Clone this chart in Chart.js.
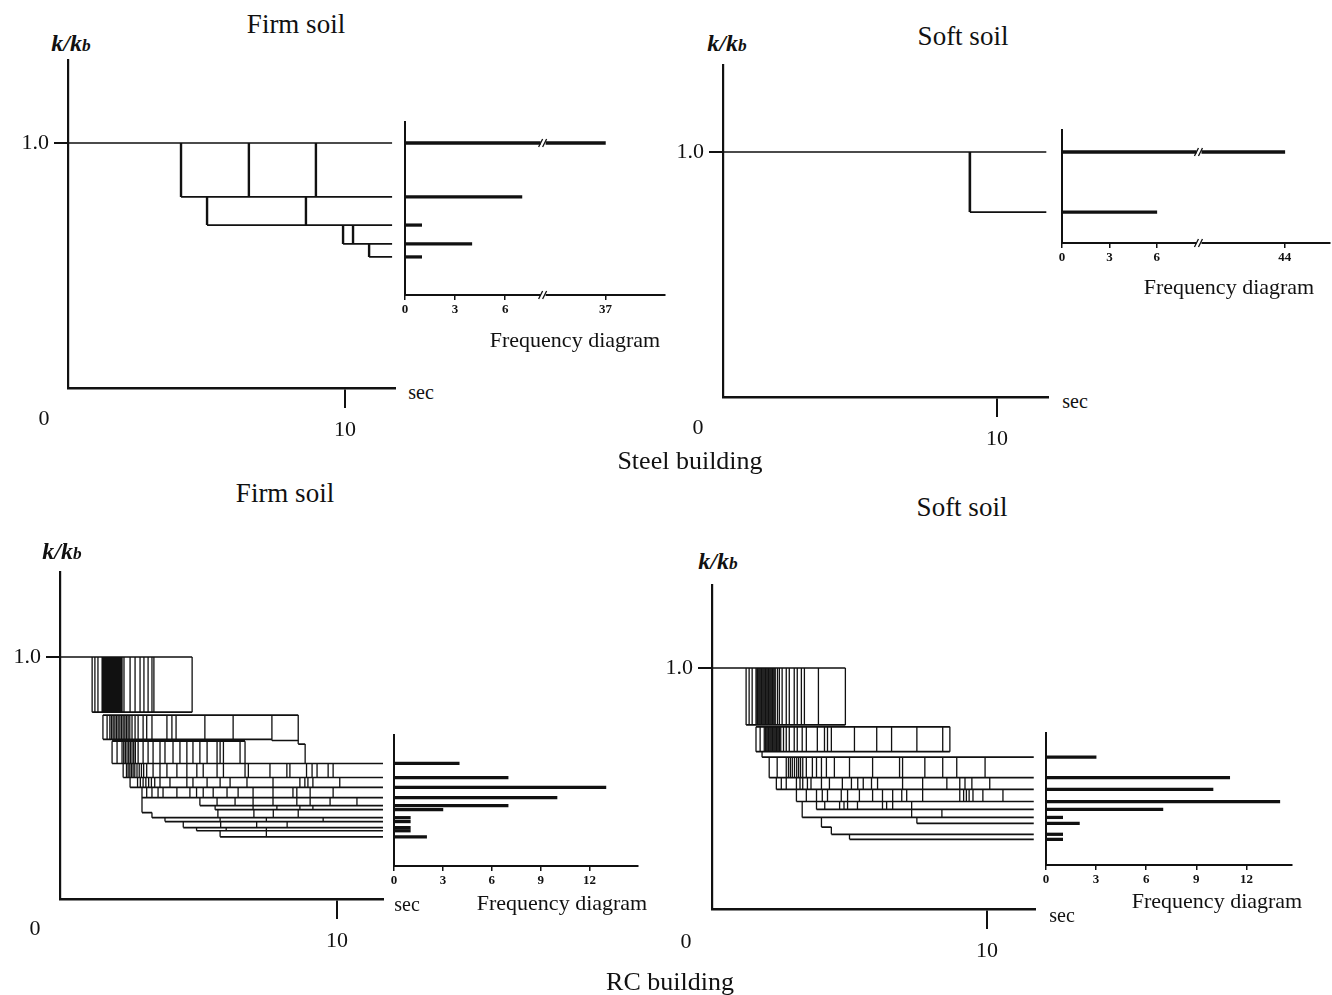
<!DOCTYPE html>
<html>
<head>
<meta charset="utf-8">
<script src="https://cdn.jsdelivr.net/npm/chart.js@4.4.1/dist/chart.umd.min.js"></script>
<style>
body { margin: 0; background: #fff; width: 1332px; height: 995px; position: relative; overflow: hidden;
       font-family: "Liberation Serif", serif; color: #111; }
canvas { position: absolute; }
.t { position: absolute; white-space: nowrap; transform: translate(-50%, -50%); line-height: 1; }
.kk { font-size: 24px; font-weight: bold; font-style: italic; }
.kk span { font-size: 0.72em; }
</style>
</head>
<body>
<canvas id="steelFirm"></canvas><canvas id="steelFirmFreq"></canvas>
<canvas id="steelSoft"></canvas><canvas id="steelSoftFreq"></canvas>
<canvas id="rcFirm"></canvas><canvas id="rcFirmFreq"></canvas>
<canvas id="rcSoft"></canvas><canvas id="rcSoftFreq"></canvas>

<div class="t" style="left:296px;top:24px;font-size:27px">Firm soil</div>
<div class="t kk" style="left:71px;top:43px">k/k<span>b</span></div>
<div class="t" style="left:44px;top:418px;font-size:22px">0</div>
<div class="t" style="left:421px;top:392px;font-size:20px">sec</div>
<div class="t" style="left:575px;top:340px;font-size:22px">Frequency diagram</div>

<div class="t" style="left:963px;top:36px;font-size:27px">Soft soil</div>
<div class="t kk" style="left:727px;top:43px">k/k<span>b</span></div>
<div class="t" style="left:698px;top:427px;font-size:22px">0</div>
<div class="t" style="left:1075px;top:401px;font-size:20px">sec</div>
<div class="t" style="left:1229px;top:287px;font-size:22px">Frequency diagram</div>

<div class="t" style="left:690px;top:461px;font-size:26px">Steel building</div>

<div class="t" style="left:285px;top:493px;font-size:27px">Firm soil</div>
<div class="t kk" style="left:62px;top:551px">k/k<span>b</span></div>
<div class="t" style="left:35px;top:928px;font-size:22px">0</div>
<div class="t" style="left:407px;top:904px;font-size:20px">sec</div>
<div class="t" style="left:562px;top:903px;font-size:22px">Frequency diagram</div>

<div class="t" style="left:962px;top:507px;font-size:27px">Soft soil</div>
<div class="t kk" style="left:718px;top:561px">k/k<span>b</span></div>
<div class="t" style="left:686px;top:941px;font-size:22px">0</div>
<div class="t" style="left:1062px;top:915px;font-size:20px">sec</div>
<div class="t" style="left:1217px;top:901px;font-size:22px">Frequency diagram</div>

<div class="t" style="left:670px;top:982px;font-size:26px">RC building</div>

<script>
// ---- data: horizontal steps [t start, t end, k/kb], drops [k top, k bottom, [t ...]]
// steel building, firm soil
var steelFirmLines = [[0, 11.7, 1.0], [4.08, 11.7, 0.78], [5.02, 11.7, 0.665], [9.93, 11.7, 0.588], [10.87, 11.7, 0.535]];
var steelFirmDrops = [[1.0, 0.78, [4.08, 6.53, 8.95]], [0.78, 0.665, [5.02, 8.59]], [0.665, 0.588, [9.93, 10.29]], [0.588, 0.535, [10.87]]];
var steelFirmLevels = [1.0, 0.78, 0.665, 0.588, 0.535];
var steelFirmCounts = [37, 7, 1, 4, 1];
var steelFirmTicks = [0, 3, 6, 37];
var steelFirmBreak = [8.3, 37, 12.0];   // break starts, value, shown at

// steel building, soft soil
var steelSoftLines = [[0, 11.8, 1.0], [9.01, 11.8, 0.755]];
var steelSoftDrops = [[1.0, 0.755, [9.01]]];
var steelSoftLevels = [1.0, 0.755];
var steelSoftCounts = [44, 6];
var steelSoftTicks = [0, 3, 6, 44];
var steelSoftBreak = [8.7, 44, 14.1];

// RC building, firm soil
var rcFirmLines = [
  [0, 4.77, 1.0], [1.16, 4.77, 0.772], [1.55, 8.6, 0.76], [1.55, 7.65, 0.66],
  [7.65, 8.6, 0.655], [8.6, 8.85, 0.64], [1.88, 6.68, 0.652],
  [1.88, 11.66, 0.560], [2.28, 11.66, 0.502], [2.53, 11.66, 0.461], [2.96, 11.66, 0.419],
  [5.05, 11.66, 0.386], [5.6, 11.66, 0.369], [2.96, 3.32, 0.357], [3.32, 11.66, 0.336],
  [3.79, 11.66, 0.320], [4.45, 11.66, 0.295], [4.93, 11.66, 0.282], [5.78, 11.66, 0.257]
];
var rcFirmDrops = [
  [1.0, 0.772, [1.16, 1.26, 1.37, 1.52, 1.56, 1.6, 1.64, 1.68, 1.72, 1.76, 1.8, 1.84, 1.88, 1.92, 1.96, 2.0, 2.04, 2.08, 2.12, 2.16, 2.2, 2.24, 2.31, 2.53, 2.71, 2.89, 3.03, 3.18, 3.32, 3.39, 4.77]],
  [0.76, 0.66, [1.55, 1.7, 1.8, 1.86, 1.92, 1.98, 2.04, 2.1, 2.16, 2.22, 2.28, 2.34, 2.4, 2.46, 2.52, 2.6, 2.71, 2.82, 3.0, 3.13, 3.32, 3.86, 4.04, 4.19, 5.23, 6.25]],
  [0.76, 0.655, [7.65]],
  [0.76, 0.64, [8.6]],
  [0.652, 0.56, [1.88, 2.06, 2.24, 2.3, 2.36, 2.42, 2.48, 2.54, 2.6, 2.66, 2.72, 2.82, 3.0, 3.18, 3.36, 3.61, 3.79, 4.08, 4.33, 4.58, 4.8, 5.05, 5.31, 5.67, 5.78, 5.9, 6.5, 6.68]],
  [0.64, 0.56, [8.85]],
  [0.56, 0.502, [2.28, 2.4, 2.46, 2.52, 2.58, 2.64, 2.7, 2.78, 2.86, 2.94, 3.02, 3.13, 3.36, 3.61, 3.86, 4.22, 4.58, 4.94, 5.17, 5.67, 5.9, 6.68, 6.8, 7.58, 8.19, 8.3, 8.9, 9.1, 9.28, 9.68, 9.86]],
  [0.502, 0.461, [2.53, 2.8, 2.9, 3.0, 3.1, 3.2, 3.3, 3.42, 3.61, 3.97, 4.58, 4.8, 5.31, 5.78, 6.14, 6.75, 7.69, 8.66, 8.84, 8.95, 9.13, 10.1]],
  [0.461, 0.419, [2.96, 3.13, 3.32, 3.54, 3.72, 4.22, 4.69, 4.93, 5.17, 5.53, 6.03, 6.43, 6.97, 7.69, 8.41, 8.55, 9.03, 9.86]],
  [0.419, 0.357, [2.96]],
  [0.419, 0.386, [5.05, 5.67, 6.32, 6.97, 7.69, 8.55, 9.03, 9.75, 10.72]],
  [0.386, 0.369, [5.6, 6.97, 7.83, 8.66, 9.13]],
  [0.357, 0.336, [3.32]],
  [0.369, 0.336, [5.7, 7.0, 7.7, 8.6]],
  [0.336, 0.32, [3.79, 5.78, 7.45, 9.5]],
  [0.32, 0.295, [4.45, 5.8, 7.1, 8.2]],
  [0.295, 0.282, [4.93, 6.0, 7.45]],
  [0.282, 0.257, [5.78, 7.45]]
];
var rcFirmLevels = [0.560, 0.502, 0.461, 0.419, 0.386, 0.369, 0.336, 0.320, 0.295, 0.282, 0.257];
var rcFirmCounts = [4, 7, 13, 10, 7, 3, 1, 1, 1, 1, 2];

// RC building, soft soil
var rcSoftLines = [
  [0, 4.85, 1.0], [1.24, 4.85, 0.764], [1.6, 8.65, 0.756], [1.6, 8.65, 0.653],
  [1.82, 11.7, 0.630], [2.08, 11.7, 0.545], [2.34, 11.7, 0.496], [3.07, 11.7, 0.446],
  [3.8, 11.7, 0.413], [3.28, 11.7, 0.380], [7.45, 11.7, 0.355],
  [3.98, 4.34, 0.34], [4.34, 11.7, 0.310], [5.0, 11.7, 0.289]
];
var rcSoftDrops = [
  [1.0, 0.764, [1.24, 1.35, 1.46, 1.6, 1.65, 1.7, 1.75, 1.8, 1.85, 1.9, 1.95, 2.0, 2.05, 2.1, 2.15, 2.2, 2.25, 2.3, 2.38, 2.45, 2.55, 2.7, 2.81, 2.99, 3.1, 3.25, 3.36, 3.87, 4.85]],
  [0.756, 0.653, [1.6, 1.75, 1.9, 1.95, 2.0, 2.05, 2.1, 2.15, 2.2, 2.25, 2.3, 2.35, 2.4, 2.45, 2.5, 2.6, 2.7, 2.81, 2.99, 3.1, 3.28, 3.43, 3.83, 4.09, 4.2, 4.34, 5.18, 5.99, 6.53, 7.45, 8.39, 8.65]],
  [0.653, 0.630, [1.82]],
  [0.630, 0.545, [2.08, 2.37, 2.7, 2.78, 2.85, 2.92, 3.0, 3.08, 3.15, 3.22, 3.3, 3.43, 3.65, 3.8, 3.98, 4.16, 4.45, 5.0, 5.84, 6.82, 6.93, 7.74, 8.39, 8.9, 9.93]],
  [0.545, 0.496, [2.34, 2.52, 2.7, 3.07, 3.2, 3.3, 3.47, 3.6, 3.98, 4.27, 4.74, 5.07, 5.3, 5.5, 5.8, 6.02, 6.93, 7.66, 8.54, 9.01, 9.2, 9.45, 10.1]],
  [0.496, 0.446, [3.07, 3.43, 3.8, 4.01, 4.2, 4.7, 4.93, 5.36, 5.84, 6.2, 6.57, 6.9, 7.08, 7.66, 9.01, 9.15, 9.25, 9.35, 9.49, 9.85, 10.58]],
  [0.446, 0.413, [3.8, 4.1, 4.64, 4.8, 4.93, 5.29, 6.2, 6.35, 6.57, 7.26]],
  [0.446, 0.380, [3.28]],
  [0.413, 0.380, [7.26, 8.36]],
  [0.380, 0.355, [7.45]],
  [0.380, 0.34, [3.98]],
  [0.34, 0.310, [4.34]],
  [0.310, 0.289, [5.0]]
];
var rcSoftLevels = [0.630, 0.545, 0.496, 0.446, 0.413, 0.380, 0.355, 0.310, 0.289];
var rcSoftCounts = [3, 11, 10, 14, 7, 1, 2, 1, 1];
var rcFreqTicks = [0, 3, 6, 9, 12];

// ---- helpers
Chart.defaults.font.family = '"Liberation Serif", serif';
Chart.defaults.color = '#111';

function stepPoints(lines) {
  var pts = [];
  lines.forEach(function (l) {
    pts.push({x: l[0], y: l[2]}, {x: l[1], y: l[2]}, {x: l[1], y: null});
  });
  return pts;
}

function dropPoints(drops) {
  var pts = [];
  drops.forEach(function (d) {
    d[2].forEach(function (t) {
      pts.push({x: t, y: d[0]}, {x: t, y: d[1]}, {x: t, y: null});
    });
  });
  return pts;
}

// position on a broken count axis
function brkPos(v, brk) {
  if (!brk || v <= brk[0]) return v;
  return brk[0] + (v - brk[0]) * (brk[2] - brk[0]) / (brk[1] - brk[0]);
}

function place(c, left, top, w, h) {
  c.width = w; c.height = h;
  c.style.left = left + 'px'; c.style.top = top + 'px';
}

// keep the plot box where it is asked for, no label padding
function noPad(s) {
  s.paddingTop = 0; s.paddingBottom = 0; s.paddingLeft = 0; s.paddingRight = 0;
}

var breakMarks = {
  id: 'breakMarks',
  afterDatasetsDraw: function (chart, args, opts) {
    if (opts.at == null) return;
    var ctx = chart.ctx, xs = chart.scales.x, ys = chart.scales.y;
    var px = xs.getPixelForValue(opts.at);
    [ys.getPixelForValue(opts.level), ys.bottom].forEach(function (py) {
      ctx.save();
      ctx.fillStyle = '#fff';
      ctx.fillRect(px - 3, py - 2, 5, 4);
      ctx.strokeStyle = '#111';
      ctx.lineWidth = 1.3;
      ctx.beginPath();
      ctx.moveTo(px - 5, py + 4); ctx.lineTo(px - 1, py - 4);
      ctx.moveTo(px - 1, py + 4); ctx.lineTo(px + 3, py - 4);
      ctx.stroke();
      ctx.restore();
    });
  }
};

function mainChart(id, box, lines, drops, dropWidth) {
  var c = document.getElementById(id);
  place(c, box.L - 70, box.T - 4, box.R - box.L + 76, box.B - box.T + 64);
  var xmax = (box.R - box.L) / ((box.x10 - box.L) / 10);
  var ymax = (box.B - box.T) / (box.B - box.y1);
  return new Chart(c, {
    type: 'scatter',
    data: {
      datasets: [
        {data: stepPoints(lines), showLine: true, borderColor: '#111', borderWidth: 1.7, pointRadius: 0, spanGaps: false},
        {data: dropPoints(drops), showLine: true, borderColor: '#111', borderWidth: dropWidth, pointRadius: 0, spanGaps: false}
      ]
    },
    options: {
      responsive: false, animation: false, events: [],
      layout: {padding: {top: 4, right: 6, left: 0, bottom: 0}},
      plugins: {legend: {display: false}, tooltip: {enabled: false}},
      scales: {
        x: {
          type: 'linear', min: 0, max: xmax,
          afterFit: function (s) { s.height = 60; noPad(s); },
          afterBuildTicks: function (s) { s.ticks = [{value: 10}]; },
          border: {display: true, color: '#111', width: 2.6},
          grid: {drawOnChartArea: false, tickLength: 20, color: '#111', lineWidth: 2},
          ticks: {font: {size: 22}, padding: 9, color: '#111', maxRotation: 0, callback: function (v) { return String(v); }}
        },
        y: {
          type: 'linear', min: 0, max: ymax,
          afterFit: function (s) { s.width = 70; noPad(s); },
          afterBuildTicks: function (s) { s.ticks = [{value: 1}]; },
          border: {display: true, color: '#111', width: 2.2},
          grid: {drawOnChartArea: false, tickLength: 14, color: '#111', lineWidth: 2},
          ticks: {font: {size: 22}, padding: 5, color: '#111', callback: function () { return '1.0'; }}
        }
      }
    }
  });
}

function freqChart(id, box, main, levels, counts, ticks, brk) {
  var c = document.getElementById(id);
  place(c, box.L - 10, box.T - 4, box.R - box.L + 16, box.B - box.T + 34);
  var kPer = main.B - main.y1;
  return new Chart(c, {
    type: 'bar',
    data: {
      datasets: [{
        data: levels.map(function (k, i) { return {x: brkPos(counts[i], brk), y: k}; }),
        backgroundColor: '#111', barThickness: 2.6
      }]
    },
    options: {
      indexAxis: 'y',
      responsive: false, animation: false, events: [],
      layout: {padding: {top: 4, right: 6, left: 0, bottom: 0}},
      plugins: {legend: {display: false}, tooltip: {enabled: false},
                breakMarks: {at: brk ? brk[0] : null, level: levels[0]}},
      scales: {
        x: {
          type: 'linear', min: 0, max: (box.R - box.L) / box.unit,
          afterFit: function (s) { s.height = 30; noPad(s); },
          afterBuildTicks: function (s) { s.ticks = ticks.map(function (v) { return {value: brkPos(v, brk)}; }); },
          border: {display: true, color: '#111', width: 2},
          grid: {drawOnChartArea: false, tickLength: 5, color: '#111', lineWidth: 1.5},
          ticks: {font: {size: 13, weight: 'bold'}, padding: 2, color: '#111', maxRotation: 0, autoSkip: false,
                  callback: function (v, i) { return String(ticks[i]); }}
        },
        y: {
          type: 'linear', offset: false,
          min: (main.B - box.B) / kPer, max: (main.B - box.T) / kPer,
          afterFit: function (s) { s.width = 10; noPad(s); },
          border: {display: true, color: '#111', width: 2},
          grid: {display: false, drawTicks: false, offset: false},
          ticks: {display: false}
        }
      }
    },
    plugins: [breakMarks]
  });
}

// ---- layout (pixel boxes of each plot area)
var boxA = {L: 68, R: 395, T: 60, B: 388, x10: 345, y1: 143};
var boxB = {L: 723, R: 1048, T: 65, B: 397, x10: 997, y1: 152};
var boxC = {L: 60, R: 383, T: 572, B: 899, x10: 337, y1: 657};
var boxD = {L: 712, R: 1035, T: 585, B: 909, x10: 987, y1: 668};

mainChart('steelFirm', boxA, steelFirmLines, steelFirmDrops, 2.4);
freqChart('steelFirmFreq', {L: 405, R: 665, T: 122, B: 295, unit: 16.7}, boxA, steelFirmLevels, steelFirmCounts, steelFirmTicks, steelFirmBreak);

mainChart('steelSoft', boxB, steelSoftLines, steelSoftDrops, 2.6);
freqChart('steelSoftFreq', {L: 1062, R: 1330, T: 130, B: 243, unit: 15.8}, boxB, steelSoftLevels, steelSoftCounts, steelSoftTicks, steelSoftBreak);

mainChart('rcFirm', boxC, rcFirmLines, rcFirmDrops, 1.3);
freqChart('rcFirmFreq', {L: 394, R: 638, T: 735, B: 866, unit: 16.3}, boxC, rcFirmLevels, rcFirmCounts, rcFreqTicks, null);

mainChart('rcSoft', boxD, rcSoftLines, rcSoftDrops, 1.3);
freqChart('rcSoftFreq', {L: 1046, R: 1292, T: 733, B: 865, unit: 16.7}, boxD, rcSoftLevels, rcSoftCounts, rcFreqTicks, null);
</script>
</body>
</html>
